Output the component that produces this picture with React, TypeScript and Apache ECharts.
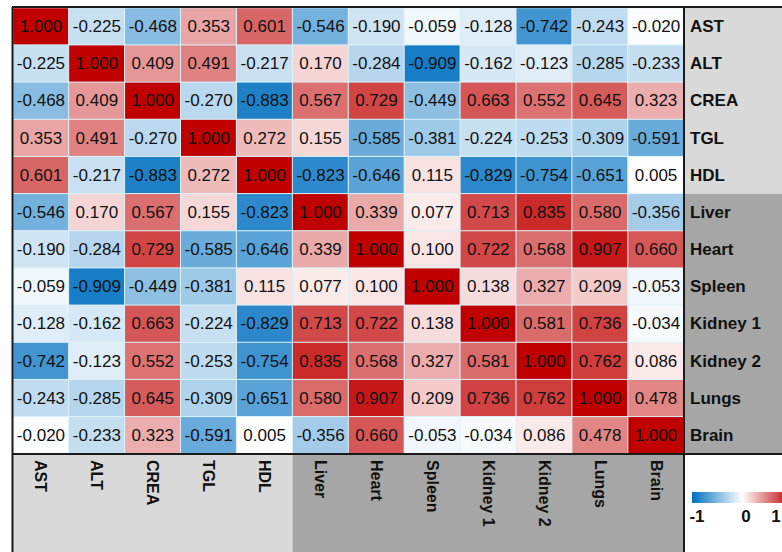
import React, { useEffect, useRef } from "react";
import * as echarts from "echarts";

const variables = ["AST", "ALT", "CREA", "TGL", "HDL", "Liver", "Heart", "Spleen", "Kidney 1", "Kidney 2", "Lungs", "Brain"];

const rowAST = [1.0, -0.225, -0.468, 0.353, 0.601, -0.546, -0.19, -0.059, -0.128, -0.742, -0.243, -0.02];
const rowALT = [-0.225, 1.0, 0.409, 0.491, -0.217, 0.17, -0.284, -0.909, -0.162, -0.123, -0.285, -0.233];
const rowCREA = [-0.468, 0.409, 1.0, -0.27, -0.883, 0.567, 0.729, -0.449, 0.663, 0.552, 0.645, 0.323];
const rowTGL = [0.353, 0.491, -0.27, 1.0, 0.272, 0.155, -0.585, -0.381, -0.224, -0.253, -0.309, -0.591];
const rowHDL = [0.601, -0.217, -0.883, 0.272, 1.0, -0.823, -0.646, 0.115, -0.829, -0.754, -0.651, 0.005];
const rowLiver = [-0.546, 0.17, 0.567, 0.155, -0.823, 1.0, 0.339, 0.077, 0.713, 0.835, 0.58, -0.356];
const rowHeart = [-0.19, -0.284, 0.729, -0.585, -0.646, 0.339, 1.0, 0.1, 0.722, 0.568, 0.907, 0.66];
const rowSpleen = [-0.059, -0.909, -0.449, -0.381, 0.115, 0.077, 0.1, 1.0, 0.138, 0.327, 0.209, -0.053];
const rowKidney1 = [-0.128, -0.162, 0.663, -0.224, -0.829, 0.713, 0.722, 0.138, 1.0, 0.581, 0.736, -0.034];
const rowKidney2 = [-0.742, -0.123, 0.552, -0.253, -0.754, 0.835, 0.568, 0.327, 0.581, 1.0, 0.762, 0.086];
const rowLungs = [-0.243, -0.285, 0.645, -0.309, -0.651, 0.58, 0.907, 0.209, 0.736, 0.762, 1.0, 0.478];
const rowBrain = [-0.02, -0.233, 0.323, -0.591, 0.005, -0.356, 0.66, -0.053, -0.034, 0.086, 0.478, 1.0];

const rows = [rowAST, rowALT, rowCREA, rowTGL, rowHDL, rowLiver, rowHeart, rowSpleen, rowKidney1, rowKidney2, rowLungs, rowBrain];

const legendLabels = ["-1", "0", "1"];

export default function App() {
  const ref = useRef<HTMLDivElement>(null);
  useEffect(() => {
    document.body.style.margin = "0";
    const chart = echarts.init(ref.current!, null, { renderer: "svg" });
    const data: [number, number, number][] = [];
    rows.forEach((r, yi) => r.forEach((v, xi) => data.push([xi, yi, v])));

    const W = 782, H = 552;
    const gl = 13, gt = 8, gr = 684, gb = 454;
    const colW = (gr - gl) / 12;
    const rowH = (gb - gt) / 12;
    const lineStyle = { stroke: "#1a1a1a", lineWidth: 2 };
    const legendX = [697, 746, 776];

    chart.setOption({
      animation: false,
      backgroundColor: "#ffffff",
      grid: { left: gl, top: gt, right: W - gr, bottom: H - gb, containLabel: false },
      xAxis: {
        type: "category",
        data: variables,
        position: "bottom",
        axisLine: { show: false },
        axisTick: { show: false },
        splitLine: { show: false },
        axisLabel: {
          rotate: -90,
          margin: 6,
          color: "#111",
          fontWeight: "bold",
          fontSize: 16,
          fontFamily: "Liberation Sans, Arial, sans-serif",
        },
      },
      yAxis: {
        type: "category",
        data: variables,
        inverse: true,
        position: "right",
        axisLine: { show: false },
        axisTick: { show: false },
        splitLine: { show: false },
        axisLabel: {
          margin: 6,
          color: "#111",
          fontWeight: "bold",
          fontSize: 17,
          fontFamily: "Liberation Sans, Arial, sans-serif",
        },
      },
      visualMap: {
        show: false,
        min: -1,
        max: 1,
        dimension: 2,
        inRange: { color: ["#0070c0", "#ffffff", "#c00000"] },
      },
      graphic: [
        { type: "rect", z: -10, shape: { x: gr, y: gt, width: W - gr, height: rowH * 5 }, style: { fill: "#d9d9d9" } },
        { type: "rect", z: -10, shape: { x: gr, y: gt + rowH * 5, width: W - gr, height: rowH * 7 }, style: { fill: "#a6a6a6" } },
        { type: "rect", z: -10, shape: { x: gl, y: gb, width: colW * 5, height: H - gb }, style: { fill: "#d9d9d9" } },
        { type: "rect", z: -10, shape: { x: gl + colW * 5, y: gb, width: colW * 7, height: H - gb }, style: { fill: "#a6a6a6" } },
        { type: "line", z: 10, shape: { x1: gl - 1, y1: gt - 1, x2: W, y2: gt - 1 }, style: lineStyle },
        { type: "line", z: 10, shape: { x1: gl - 0.5, y1: gt - 1, x2: gl - 0.5, y2: H }, style: lineStyle },
        { type: "line", z: 10, shape: { x1: gr, y1: gt - 1, x2: gr, y2: H }, style: lineStyle },
        { type: "line", z: 10, shape: { x1: gl - 1, y1: gb, x2: W, y2: gb }, style: lineStyle },
        {
          type: "rect",
          shape: { x: 692, y: 492, width: 100, height: 11 },
          style: {
            fill: new echarts.graphic.LinearGradient(0, 0, 1, 0, [
              { offset: 0, color: "#0070c0" },
              { offset: 0.5, color: "#ffffff" },
              { offset: 1, color: "#c00000" },
            ]),
          },
        },
        ...legendLabels.map((t, i) => ({
          type: "text",
          x: legendX[i],
          y: 516,
          style: {
            text: t,
            fill: "#111",
            font: "bold 17px Liberation Sans, Arial, sans-serif",
            align: "center",
            verticalAlign: "middle",
          },
        })),
      ],
      series: [
        {
          type: "heatmap",
          data,
          itemStyle: { borderColor: "#dcf2f8", borderWidth: 1 },
          label: {
            show: true,
            color: "#111",
            fontSize: 17,
            fontFamily: "Liberation Sans Narrow, Arial Narrow, sans-serif",
            formatter: (p: any) => (p.value[2] as number).toFixed(3),
          },
        },
      ],
    });
    return () => chart.dispose();
  }, []);
  return <div ref={ref} style={{ width: 782, height: 552, position: "absolute", left: 0, top: 0 }} />;
}
